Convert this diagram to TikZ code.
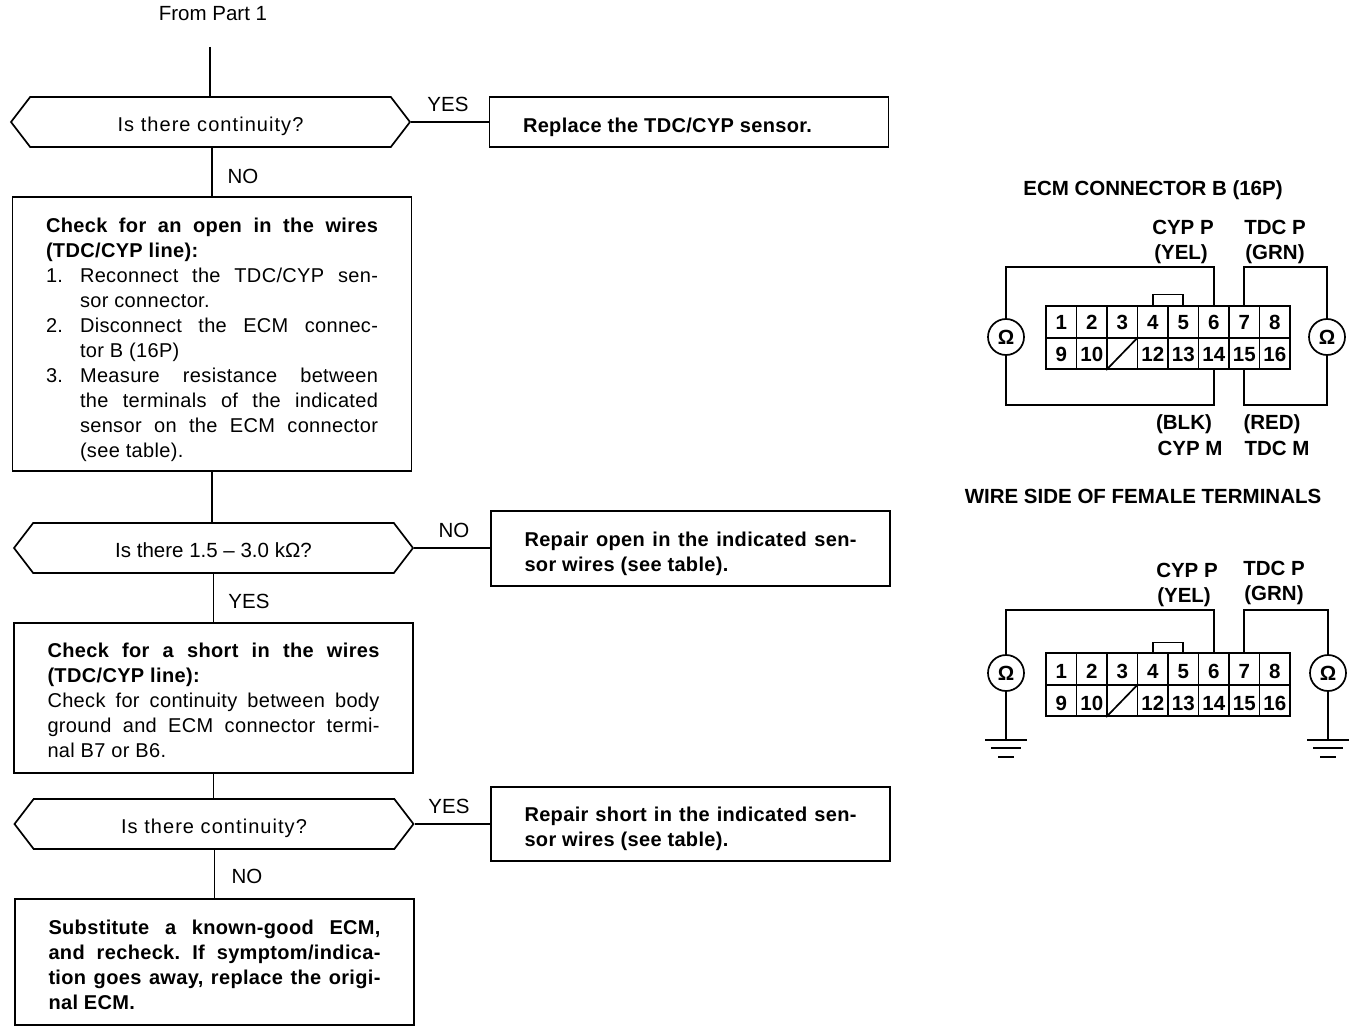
\documentclass[tikz,border=0pt]{standalone}
\usepackage{fontspec}
\setmainfont{Liberation Sans}
\newfontfamily\bodyfam[LetterSpace=1.7]{Liberation Sans}
\newfontfamily\askfam[LetterSpace=5.3]{Liberation Sans}
\usetikzlibrary{shapes.symbols}
\newcommand{\numitem}[2]{\par\hangindent=34pt\hangafter=1\noindent\makebox[34pt][l]{#1}#2\par}
\frenchspacing
\begin{document}
\begin{tikzpicture}[x=1pt,y=-1pt,line width=1.7pt]
  \tikzset{
body font/.style={font=\fontsize{20}{25}\selectfont\bodyfam},
head font/.style={font=\fontsize{20}{25}\selectfont\bodyfam\bfseries},
flow box/.style={rectangle,draw,align=justify,text width=332pt,inner xsep=33.5pt,inner ysep=0pt,body font},
bold box/.style={flow box,head font},
push down/.style={execute at begin node={\rule{0pt}{\dimexpr15pt+#1\relax}}},
question/.style={signal,signal to=west and east,signal pointer angle=105,draw,inner sep=0pt,minimum width=399pt,minimum height=50pt,text height=24pt,text depth=5pt,font=\fontsize{20}{25}\selectfont\askfam},
answer/.style={font=\fontsize{20.5}{25}\selectfont},
pin label/.style={font=\fontsize{20.5}{25}\selectfont\bfseries},
cell/.style={rectangle,draw,inner sep=0pt,minimum width=30.5pt,minimum height=31.5pt,text height=16pt,text depth=0pt,pin label},
meter/.style={circle,draw,inner sep=0pt,minimum size=36pt,pin label}
}
  \useasboundingbox (0,0) rectangle (1360,1032);
  % flow chart
  \coordinate (start) at (210,47);
  \node[answer] (from) at (213,14) {From Part 1};
  \node[question] (q1) at (210.5,122) {Is there continuity?};
  \node[bold box,push down=10pt,minimum height=50pt] (r1) at (689,122) {Replace the TDC/CYP sensor.};
  \node[flow box,push down=12pt,minimum height=274pt] (c1) at (212,334) {%
{\bfseries Check for an open in the wires\linebreak (TDC/CYP line):\par}
\numitem{1.}{Reconnect the TDC/CYP sen-\linebreak sor connector.}
\numitem{2.}{Disconnect the ECM connec-\linebreak tor B (16P)}
\numitem{3.}{Measure resistance between\linebreak the terminals of the indicated\linebreak sensor on the ECM connector\linebreak (see table).}};
  \node[question,answer] (q2) at (213.5,548) {Is there 1.5 – 3.0 kΩ?};
  \node[bold box,push down=10pt,minimum height=75pt] (r2) at (690.5,548.5) {Repair open in the indicated sen-\linebreak sor wires (see table).};
  \node[flow box,push down=4pt,minimum height=150pt] (c2) at (213.5,698) {%
{\bfseries Check for a short in the wires\linebreak (TDC/CYP line):\par}
Check for continuity between body\linebreak ground and ECM connector termi-\linebreak nal B7 or B6.};
  \node[question] (q3) at (214,824) {Is there continuity?};
  \node[bold box,push down=10pt,minimum height=74pt] (r3) at (690.5,824) {Repair short in the indicated sen-\linebreak sor wires (see table).};
  \node[bold box,push down=6pt,minimum height=126pt] (c3) at (214.5,962) {Substitute a known-good ECM,\linebreak and recheck. If symptom/indica-\linebreak tion goes away, replace the origi-\linebreak nal ECM.};
  \draw (start) -- (start |- q1.north);
  \draw (q1.east) -- (r1.west);
  \draw (c1.north |- q1.south) -- (c1.north);
  \draw (c1.south) -- (c1.south |- q2.north);
  \draw (q2.east) -- (q2.east -| r2.west);
  \draw (q2.south) -- (q2.south |- c2.north);
  \draw (c2.south) -- (c2.south |- q3.north);
  \draw (q3.east) -- (q3.east -| r3.west);
  \draw (c3.north |- q3.south) -- (c3.north);
  \node[answer] (yes1) at (448,104) {YES};
  \node[answer] (no1) at (243,176) {NO};
  \node[answer] (no2) at (454,530) {NO};
  \node[answer] (yes2) at (249,601) {YES};
  \node[answer] (yes3) at (449,806) {YES};
  \node[answer] (no3) at (247,876) {NO};
  % upper connector
  \node[pin label] (title1) at (1153,190) {ECM CONNECTOR B (16P)};
  \foreach \n in {1,...,8}{
    \node[cell] (a\n) at ({1061.25+(\n-1)*30.5},322) {\n};
    \pgfmathtruncatemacro{\m}{\n+8}
    \ifnum\m=11 \node[cell] (a\m) at ({1061.25+(\n-1)*30.5},353.5) {};
    \else \node[cell] (a\m) at ({1061.25+(\n-1)*30.5},353.5) {\m}; \fi
  }
  \draw (a11.south west) -- (a11.north east);
  \draw (a4.north) -- ++(0,-11) -| (a5.north);
  \node[meter] (m1) at (1006,337) {Ω};
  \node[meter] (m2) at (1327,337) {Ω};
  \coordinate (w1) at (1006,267);
  \coordinate (w2) at (1327,267);
  \coordinate (w3) at (1006,405);
  \coordinate (w4) at (1327,405);
  \draw (m1.north) -- (w1) -| (a6.north);
  \draw (a7.north) |- (w2) -- (m2.north);
  \draw (m1.south) -- (w3) -| (a14.south);
  \draw (a15.south) |- (w4) -- (m2.south);
  \node[pin label] (cypp1) at (1183,227) {CYP P};
  \node[pin label] (yel1) at (1181,254) {(YEL)};
  \node[pin label] (tdcp1) at (1275,227) {TDC P};
  \node[pin label] (grn1) at (1275,254) {(GRN)};
  \node[pin label] (blk1) at (1184,424) {(BLK)};
  \node[pin label] (cypm1) at (1190,448) {CYP M};
  \node[pin label] (red1) at (1272,424) {(RED)};
  \node[pin label] (tdcm1) at (1277,448) {TDC M};
  \node[pin label] (title2) at (1143,496) {WIRE SIDE OF FEMALE TERMINALS};
  % lower connector
  \foreach \n in {1,...,8}{
    \node[cell,text height=19pt] (b\n) at ({1061.25+(\n-1)*30.5},669) {\n};
    \pgfmathtruncatemacro{\m}{\n+8}
    \ifnum\m=11 \node[cell] (b\m) at ({1061.25+(\n-1)*30.5},700.5) {};
    \else \node[cell,text height=19pt] (b\m) at ({1061.25+(\n-1)*30.5},700.5) {\m}; \fi
  }
  \draw (b11.south west) -- (b11.north east);
  \draw (b4.north) -- ++(0,-10) -| (b5.north);
  \node[meter] (m3) at (1006,673) {Ω};
  \node[meter] (m4) at (1328,673) {Ω};
  \coordinate (w5) at (1006,610);
  \coordinate (w6) at (1328,610);
  \coordinate (g1) at (1006,740);
  \coordinate (g2) at (1328,740);
  \draw (m3.north) -- (w5) -| (b6.north);
  \draw (b7.north) |- (w6) -- (m4.north);
  \draw (m3.south) -- (g1);
  \draw (m4.south) -- (g2);
  \foreach \g in {g1,g2}{
    \draw (\g) ++(-21,0) -- ++(42,0);
    \draw (\g) ++(-15,8) -- ++(30,0);
    \draw (\g) ++(-8,17) -- ++(16,0);
  }
  \node[pin label] (cypp2) at (1187,570) {CYP P};
  \node[pin label] (yel2) at (1184,597) {(YEL)};
  \node[pin label] (tdcp2) at (1274,568) {TDC P};
  \node[pin label] (grn2) at (1274,595) {(GRN)};
\end{tikzpicture}
\end{document}
